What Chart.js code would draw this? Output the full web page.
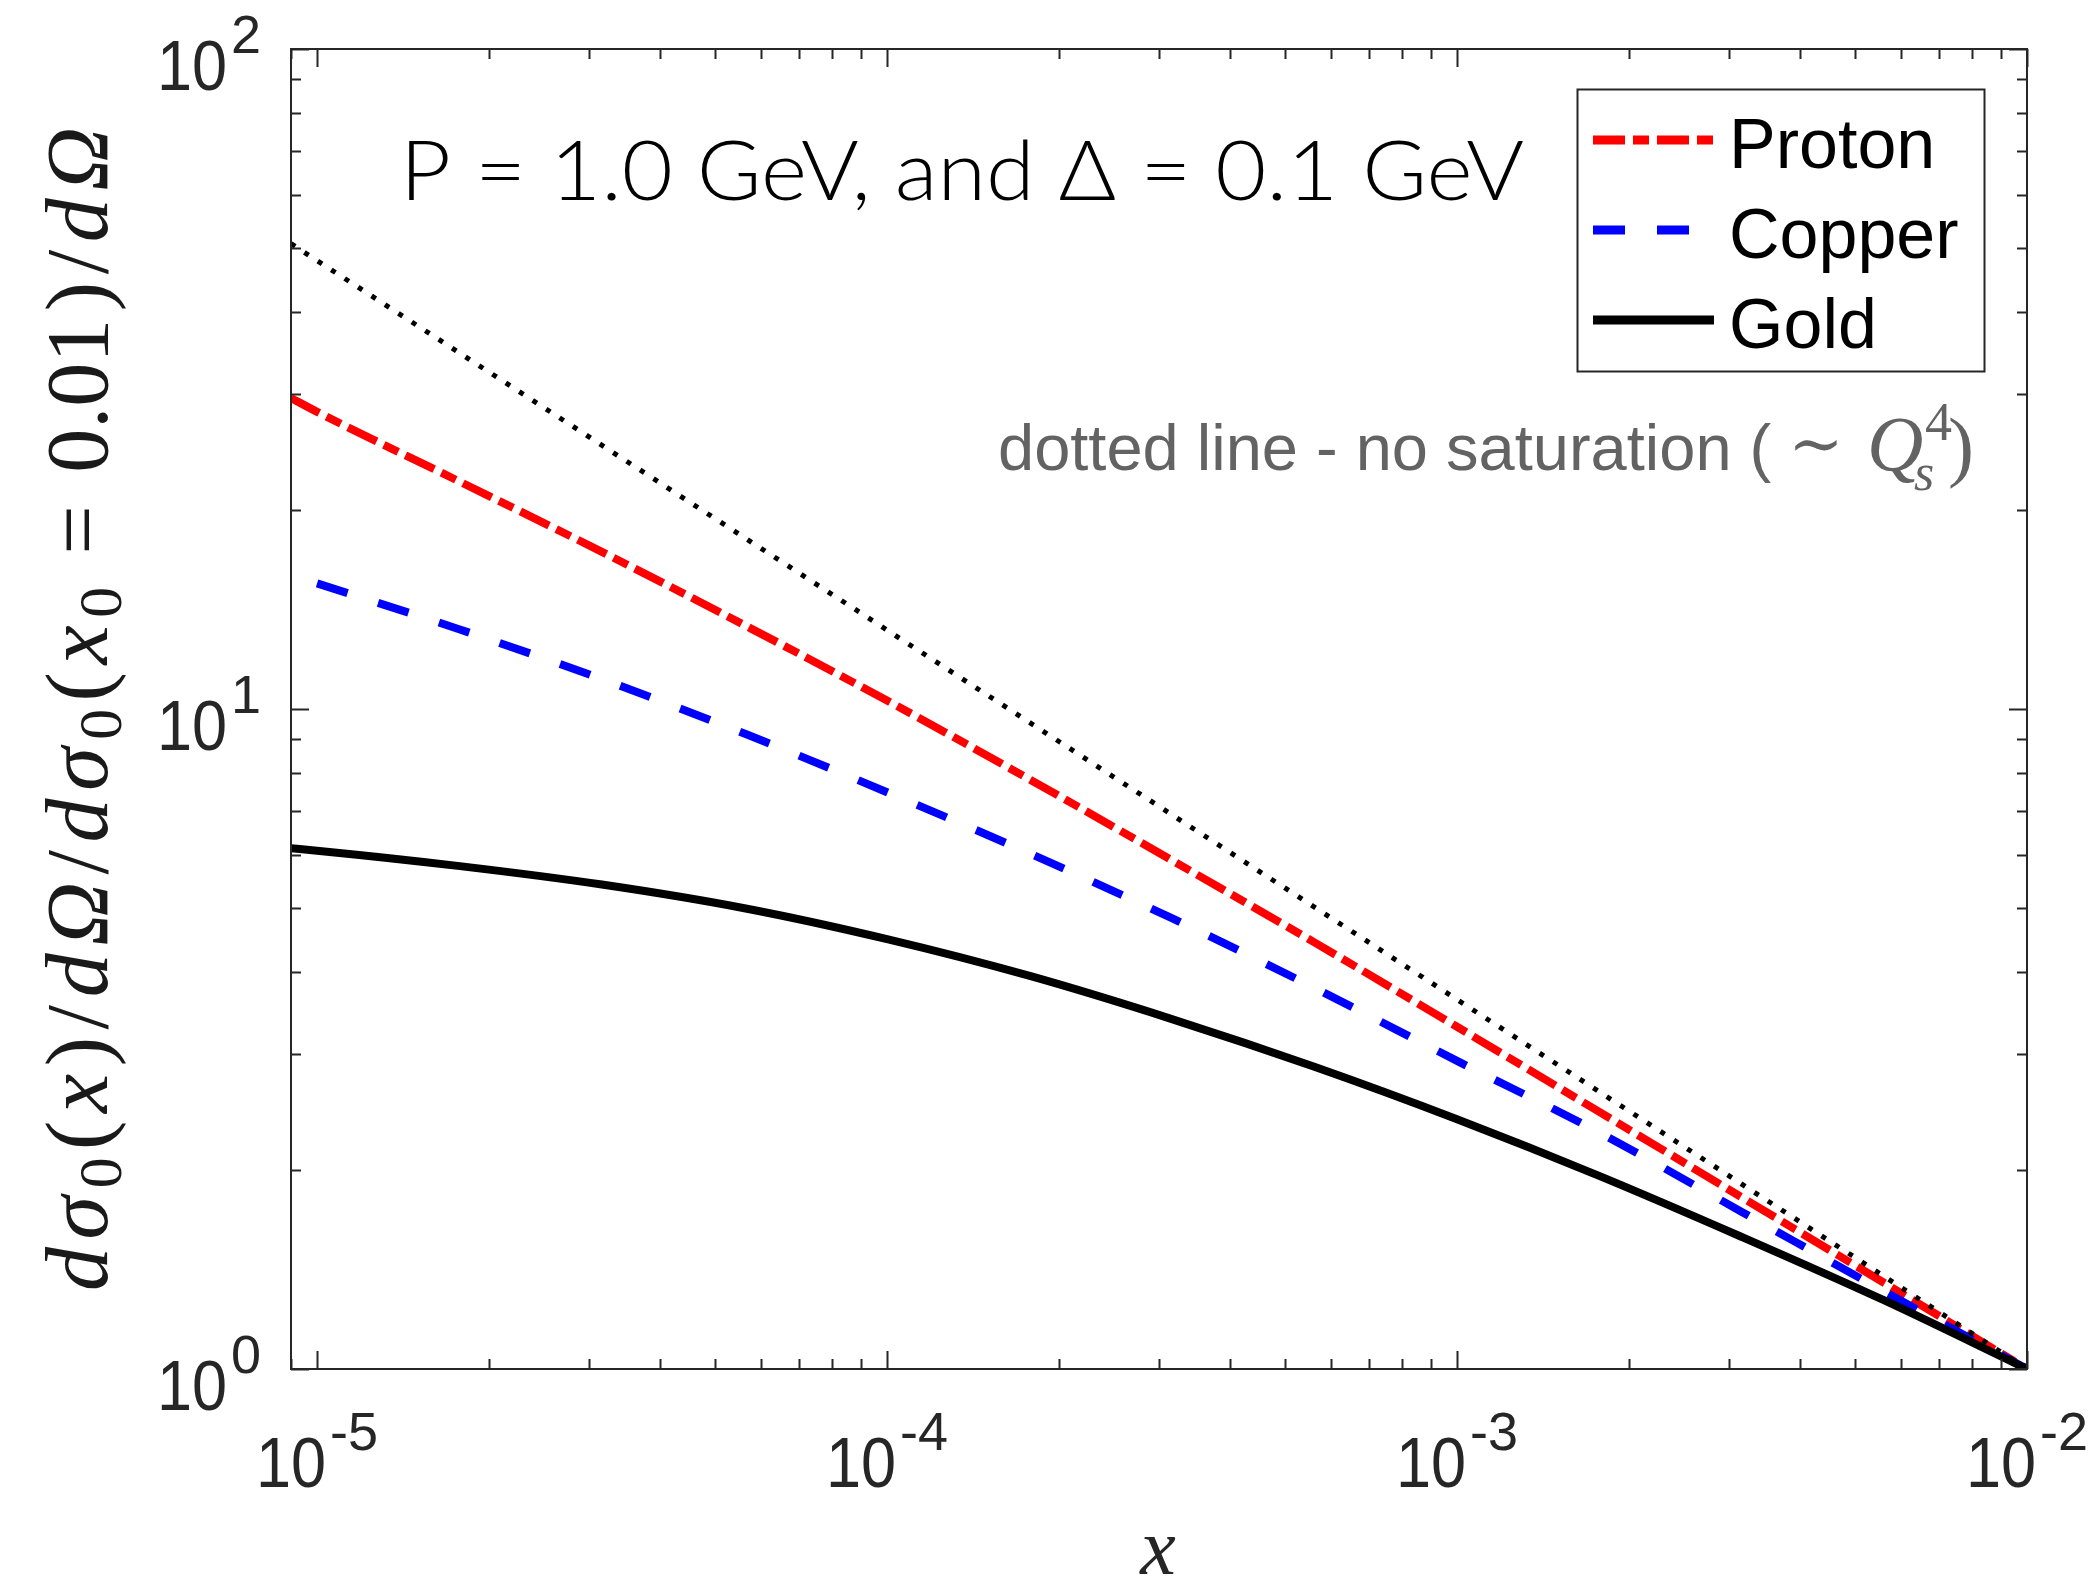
<!DOCTYPE html>
<html>
<head>
<meta charset="utf-8">
<script src="https://cdn.jsdelivr.net/npm/chart.js@4"></script>
<style>
  html, body { margin: 0; padding: 0; background: #fff; }
  canvas { display: block; }
</style>
</head>
<body>
<canvas id="chart" width="2090" height="1584"></canvas>
<script>
// x grid (log spaced, quarter decades) shared by the curves
const xValues = [9e-6, 1e-5, 1.78e-5, 3.16e-5, 5.62e-5, 1e-4, 1.78e-4, 3.16e-4, 5.62e-4, 1e-3, 1.78e-3, 3.16e-3, 5.62e-3, 1e-2];
const protonValues = [29.6, 28.2, 22.1, 17.3, 13.4, 10.3, 7.82, 5.90, 4.43, 3.30, 2.45, 1.82, 1.35, 1.0];
// copper curve starts at x = 1e-5
const copperX = [1e-5, 1.78e-5, 3.16e-5, 5.62e-5, 1e-4, 1.78e-4, 3.16e-4, 5.62e-4, 1e-3, 1.78e-3, 3.16e-3, 5.62e-3, 1e-2];
const copperValues = [15.5, 13.2, 11.1, 9.18, 7.48, 6.04, 4.82, 3.78, 2.93, 2.28, 1.73, 1.31, 1.0];
const goldValues = [6.15, 6.10, 5.78, 5.42, 4.99, 4.48, 3.94, 3.39, 2.87, 2.39, 1.96, 1.585, 1.27, 1.0];
// no-saturation reference (straight line in log-log)
const noSatX = [9e-6, 1e-2];
const noSatValues = [50.7, 1.0];

const xTicks = [1e-5, 1e-4, 1e-3, 1e-2];
const xTickExp = ['-5', '-4', '-3', '-2'];
const yTicks = [1, 10, 100];
const yTickExp = ['0', '1', '2'];

const AXIS_COLOR = '#262626';
const PROTON_DASH = [32, 8, 16, 8];
const COPPER_DASH = [32, 32];
const DOT_DASH = [5, 11];

const toPoints = (xs, ys) => xs.map((x, i) => ({ x: x, y: ys[i] }));

// lay out a row of math glyphs (serif, italic variables, sub/superscripts),
// spreading any leftover width evenly between glyphs
function layoutMath(ctx, parts, size, targetWidth) {
    let x = 0;
    const items = [];
    for (const [t, kind] of parts) {
        let fs = size, dy = 0, style = '';
        if (kind === 'i') style = 'italic ';
        if (kind === 'sub') { fs = size * 0.7; dy = size * 0.16; }
        if (kind === 'sup') { fs = size * 0.7; dy = -size * 0.38; }
        const font = `${style}${fs}px "Liberation Serif", "DejaVu Serif", serif`;
        ctx.font = font;
        const pad = kind === 'rel' ? size * 0.28 : 0;
        const w = ctx.measureText(t).width;
        items.push({ t: t, font: font, x: x + pad, dy: dy });
        x += w + 2 * pad;
    }
    if (targetWidth && items.length > 1) {
        const extra = (targetWidth - x) / (items.length - 1);
        items.forEach((it, i) => { it.x += extra * i; });
        x = targetWidth;
    }
    return { items: items, width: x };
}

function drawMath(ctx, layout, x0, y0) {
    for (const it of layout.items) {
        ctx.font = it.font;
        ctx.fillText(it.t, x0 + it.x, y0 + it.dy);
    }
}

// "10" with a superscript exponent
function drawPower(ctx, exp, anchorX, baseY, supY, align) {
    const squeeze = 0.9;
    ctx.font = '70px "Liberation Sans", Arial, sans-serif';
    const wb = ctx.measureText('10').width * squeeze;
    ctx.font = '54px "Liberation Sans", Arial, sans-serif';
    const ws = ctx.measureText(exp).width;
    const gap = 4;
    const total = wb + gap + ws;
    const left = align === 'center' ? anchorX - total / 2 : anchorX - total;
    ctx.save();
    ctx.translate(left, baseY);
    ctx.scale(squeeze, 1);
    ctx.font = '70px "Liberation Sans", Arial, sans-serif';
    ctx.fillText('10', 0, 0);
    ctx.restore();
    ctx.font = '54px "Liberation Sans", Arial, sans-serif';
    ctx.fillText(exp, left + wb + gap, supY);
}

const figurePlugin = {
    id: 'figureDecor',
    beforeDraw(chart) {
        const ctx = chart.ctx;
        ctx.save();
        ctx.fillStyle = '#fff';
        ctx.fillRect(0, 0, chart.width, chart.height);
        ctx.restore();
    },
    afterDraw(chart) {
        const ctx = chart.ctx;
        const { left, right, top, bottom } = chart.chartArea;
        const xs = chart.scales.x, ys = chart.scales.y;
        ctx.save();

        // frame
        ctx.strokeStyle = AXIS_COLOR;
        ctx.lineWidth = 2;
        ctx.setLineDash([]);
        ctx.strokeRect(left, top, right - left, bottom - top);

        // inward ticks on all four sides
        const majorLen = 18, minorLen = 10;
        ctx.beginPath();
        for (let d = -6; d <= -2; d++) {
            for (let k = 1; k <= 9; k++) {
                const v = k * Math.pow(10, d);
                if (v < xs.min * 0.999 || v > xs.max * 1.001) continue;
                const px = Math.round(xs.getPixelForValue(v)) + 0.5;
                const len = k === 1 ? majorLen : minorLen;
                ctx.moveTo(px, bottom); ctx.lineTo(px, bottom - len);
                ctx.moveTo(px, top); ctx.lineTo(px, top + len);
            }
        }
        for (let d = 0; d <= 2; d++) {
            for (let k = 1; k <= 9; k++) {
                const v = k * Math.pow(10, d);
                if (v > ys.max * 1.001) continue;
                const py = Math.round(ys.getPixelForValue(v)) + 0.5;
                const len = k === 1 ? majorLen : minorLen;
                ctx.moveTo(left, py); ctx.lineTo(left + len, py);
                ctx.moveTo(right, py); ctx.lineTo(right - len, py);
            }
        }
        ctx.stroke();

        // tick labels
        ctx.fillStyle = AXIS_COLOR;
        ctx.textBaseline = 'alphabetic';
        ctx.textAlign = 'left';
        xTicks.forEach((v, i) => {
            drawPower(ctx, xTickExp[i], xs.getPixelForValue(v), bottom + 118, bottom + 81, 'center');
        });
        yTicks.forEach((v, i) => {
            const py = ys.getPixelForValue(v);
            drawPower(ctx, yTickExp[i], 261, py + 41, py + 4, 'right');
        });

        // x axis title
        ctx.font = 'italic 80px "Liberation Serif", serif';
        ctx.textAlign = 'center';
        ctx.fillText('x', 1158, 1574);
        ctx.textAlign = 'left';

        // y axis title
        const yParts = [
            ['d', 'i'], ['σ', 'i'], ['0', 'sub'], ['(', 'n'], ['x', 'i'], [')', 'n'], ['/', 'n'],
            ['d', 'i'], ['Ω', 'i'], ['/', 'n'], ['d', 'i'], ['σ', 'i'], ['0', 'sub'], ['(', 'n'],
            ['x', 'i'], ['0', 'sub'], ['=', 'rel'], ['0.01', 'n'], [')', 'n'], ['/', 'n'],
            ['d', 'i'], ['Ω', 'i']
        ];
        const yl = layoutMath(ctx, yParts, 88, 1164);
        ctx.save();
        ctx.fillStyle = '#1a1a1a';
        ctx.translate(107, 709);
        ctx.rotate(-Math.PI / 2);
        drawMath(ctx, yl, -yl.width / 2, 0);
        ctx.restore();

        // parameter note
        ctx.fillStyle = '#000';
        ctx.font = '300 83px Lato, "Open Sans", sans-serif';
        const note = 'P = 1.0 GeV, and Δ = 0.1 GeV';
        const nw = ctx.measureText(note).width;
        ctx.save();
        ctx.translate(400, 200);
        ctx.scale(1124 / nw, 1);
        ctx.fillText(note, 0, 0);
        ctx.restore();

        // dotted-line note
        ctx.fillStyle = '#636363';
        ctx.font = '65px "Liberation Sans", Arial, sans-serif';
        ctx.fillText('dotted line - no saturation (', 998, 470);
        ctx.textAlign = 'center';
        ctx.font = '66px "DejaVu Serif", serif';
        ctx.fillText('∼', 1816, 466);
        ctx.textAlign = 'left';
        ctx.font = 'italic 78px "Liberation Serif", serif';
        ctx.fillText('Q', 1867, 470);
        ctx.font = 'italic 52px "Liberation Serif", serif';
        ctx.fillText('s', 1914, 490);
        ctx.font = '54px "Liberation Serif", serif';
        ctx.fillText('4', 1925, 440);
        ctx.font = '78px "Liberation Serif", serif';
        ctx.fillText(')', 1948, 472);

        // legend box
        const lx = 1577, ly = 89, lw = 407, lh = 282;
        ctx.fillStyle = '#fff';
        ctx.fillRect(lx, ly, lw, lh);
        ctx.strokeStyle = AXIS_COLOR;
        ctx.lineWidth = 2;
        ctx.strokeRect(lx + 0.5, ly + 0.5, lw, lh);
        const entries = chart.data.datasets.filter(ds => ds.label);
        entries.forEach((ds, i) => {
            const ry = 140 + i * 90;
            ctx.strokeStyle = ds.borderColor;
            ctx.lineWidth = 9;
            ctx.lineCap = 'butt';
            ctx.setLineDash(ds.borderDash || []);
            ctx.beginPath();
            ctx.moveTo(1593, ry);
            ctx.lineTo(1714, ry);
            ctx.stroke();
            ctx.setLineDash([]);
            ctx.fillStyle = '#000';
            ctx.font = '70px "Liberation Sans", Arial, sans-serif';
            ctx.fillText(ds.label, 1729, ry + 28);
        });

        ctx.restore();
    }
};

const canvas = document.getElementById('chart');
new Chart(canvas, {
    type: 'scatter',
    data: {
        datasets: [
            {
                label: 'Proton',
                data: toPoints(xValues, protonValues),
                borderColor: '#ff0000',
                borderDash: PROTON_DASH,
                borderWidth: 8,
                order: 4
            },
            {
                label: 'Copper',
                data: toPoints(copperX, copperValues),
                borderColor: '#0000ff',
                borderDash: COPPER_DASH,
                borderWidth: 8,
                order: 3
            },
            {
                label: 'Gold',
                data: toPoints(xValues, goldValues),
                borderColor: '#000000',
                borderDash: [],
                borderWidth: 8,
                order: 2
            },
            {
                label: '',
                data: toPoints(noSatX, noSatValues),
                borderColor: '#000000',
                borderDash: DOT_DASH,
                borderWidth: 5,
                order: 1
            }
        ]
    },
    options: {
        responsive: false,
        animation: false,
        devicePixelRatio: 1,
        layout: { padding: { left: 291, right: 63, top: 49, bottom: 215 } },
        elements: {
            point: { radius: 0, hoverRadius: 0 },
            line: { fill: false, cubicInterpolationMode: 'monotone', borderCapStyle: 'butt' }
        },
        datasets: { scatter: { showLine: true } },
        plugins: {
            legend: { display: false },
            tooltip: { enabled: false }
        },
        scales: {
            x: { type: 'logarithmic', min: 9e-6, max: 1e-2, display: false },
            y: { type: 'logarithmic', min: 1, max: 100, display: false }
        }
    },
    plugins: [figurePlugin]
});
</script>
</body>
</html>
